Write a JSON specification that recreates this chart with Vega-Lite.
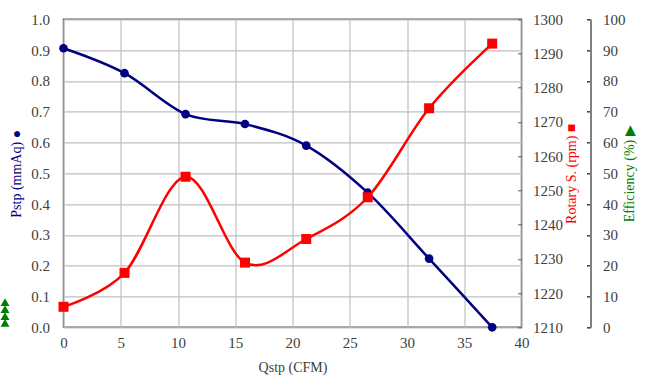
{
  "$schema": "https://vega.github.io/schema/vega-lite/v6.json",
  "width": 458,
  "height": 308,
  "autosize": "none",
  "padding": {"left": 63.5, "top": 19.3, "right": 125.5, "bottom": 62.7},
  "background": "white",
  "config": {
    "view": {"stroke": "#595959", "strokeWidth": 1.5},
    "font": "Liberation Serif",
    "axis": {
      "labelFont": "Liberation Serif",
      "labelFontSize": 15,
      "labelColor": "#404040",
      "labelFlush": false,
      "titleFont": "Liberation Serif",
      "titleFontSize": 14,
      "titleFontWeight": "normal",
      "gridColor": "#c0c0c0",
      "gridWidth": 1.2,
      "tickColor": "#595959",
      "domain": false
    }
  },
  "datasets": {
    "main": [
      {"q": 0.0, "pstp": 0.906, "rpm": 1216.0},
      {"q": 5.33, "pstp": 0.825, "rpm": 1225.9},
      {"q": 10.66, "pstp": 0.692, "rpm": 1254.0},
      {"q": 15.85, "pstp": 0.66, "rpm": 1228.9},
      {"q": 21.2, "pstp": 0.59, "rpm": 1235.8},
      {"q": 26.57, "pstp": 0.437, "rpm": 1248.0},
      {"q": 31.93, "pstp": 0.223, "rpm": 1274.0},
      {"q": 37.44, "pstp": 0.0, "rpm": 1292.9}
    ],
    "eff": [
      {"ex": 0, "eff": 1.4},
      {"ex": 0, "eff": 3.6},
      {"ex": 0, "eff": 5.9},
      {"ex": 0, "eff": 8.2}
    ]
  },
  "layer": [
    {
      "data": {"name": "main"},
      "encoding": {
        "x": {
          "field": "q", "type": "quantitative",
          "scale": {"domain": [0, 40], "nice": false},
          "axis": {"values": [0,5,10,15,20,25,30,35,40], "ticks": false, "labelPadding": 8, "title": "Qstp (CFM)", "titleColor": "#404040", "titlePadding": 10, "grid": true}
        },
        "y": {
          "field": "pstp", "type": "quantitative",
          "scale": {"domain": [0, 1], "nice": false},
          "axis": {"orient": "left", "values": [0,0.1,0.2,0.3,0.4,0.5,0.6,0.7,0.8,0.9,1.0], "format": ".1f", "ticks": false, "labelPadding": 14, "grid": true, "title": "Pstp (mmAq) ●", "titleColor": "#000080", "titlePadding": 7}
        }
      },
      "layer": [
        {"mark": {"type": "line", "interpolate": "cardinal", "tension": 0, "color": "#000080", "strokeWidth": 2.5}},
        {"mark": {"type": "point", "shape": "circle", "filled": true, "opacity": 1, "color": "#000080", "size": 75}}
      ]
    },
    {
      "data": {"name": "main"},
      "encoding": {
        "x": {
          "field": "q", "type": "quantitative",
          "scale": {"domain": [0, 40], "nice": false},
          "axis": null
        },
        "y": {
          "field": "rpm", "type": "quantitative",
          "scale": {"domain": [1210, 1300], "nice": false, "zero": false},
          "axis": {"orient": "right", "values": [1210,1220,1230,1240,1250,1260,1270,1280,1290,1300], "format": "d", "tickSize": -4, "labelPadding": 15, "grid": false, "title": "Rotary S. (rpm) ■", "titleColor": "#ff0000", "titleAngle": 270, "titleBaseline": "top", "titlePadding": 2}
        }
      },
      "layer": [
        {"mark": {"type": "line", "interpolate": "cardinal", "tension": 0, "color": "#ff0000", "strokeWidth": 2.5}},
        {"mark": {"type": "point", "shape": "square", "filled": true, "opacity": 1, "color": "#ff0000", "size": 100}}
      ]
    },
    {
      "data": {"name": "eff"},
      "mark": {"type": "point", "shape": "triangle-up", "filled": true, "opacity": 1, "color": "#008000", "size": 80},
      "encoding": {
        "x": {"field": "ex", "type": "quantitative", "scale": {"domain": [1, 8.83], "nice": false, "zero": false}, "axis": null},
        "y": {
          "field": "eff", "type": "quantitative",
          "scale": {"domain": [0, 100], "nice": false},
          "axis": {"orient": "right", "offset": 69, "values": [0,10,20,30,40,50,60,70,80,90,100], "domain": true, "domainColor": "#808080", "domainWidth": 2, "tickSize": -4, "tickWidth": 1.5, "tickColor": "#404040", "labelPadding": 16, "grid": false, "title": "Efficiency (%) ▶", "titleColor": "#008000", "titleAngle": 270, "titleBaseline": "top", "titlePadding": -3}
        }
      }
    }
  ],
  "resolve": {"scale": {"x": "independent", "y": "independent"}}
}
